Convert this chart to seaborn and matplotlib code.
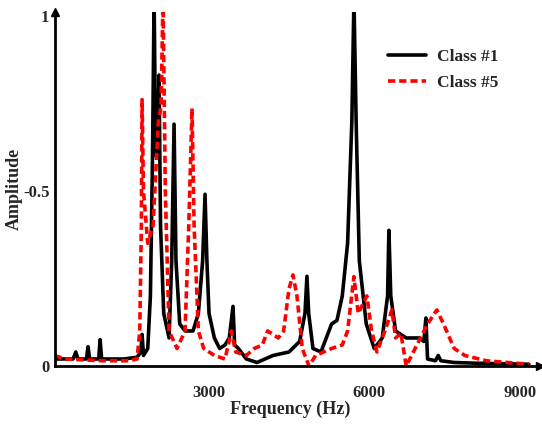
import matplotlib
matplotlib.use("Agg")
import matplotlib.pyplot as plt
import matplotlib.transforms as mtransforms
import seaborn as sns
import pandas as pd

# Class #1 (black, solid)
freq1 = [100, 450, 500, 540, 700, 730, 760, 930, 956, 985, 1400, 1650, 1720, 1744, 1770,
         1850, 1900, 1940, 1969, 2000, 2030, 2062, 2090, 2150, 2250, 2300, 2344, 2380,
         2450, 2550, 2700, 2800, 2880, 2925, 2960, 3000, 3100, 3200, 3300, 3380, 3450,
         3480, 3550, 3700, 3900, 4200, 4500, 4700, 4800, 4837, 4870, 4950, 5100, 5300,
         5400, 5500, 5600, 5680, 5719, 5760, 5820, 5950, 6100, 6250, 6350, 6375, 6410,
         6500, 6700, 6950, 7030, 7069, 7100, 7250, 7300, 7350, 7600, 8000, 9000]
amp1 = [0.02, 0.02, 0.04, 0.02, 0.02, 0.055, 0.02, 0.02, 0.075, 0.02, 0.02, 0.025, 0.04,
        0.09, 0.03, 0.05, 0.2, 0.6, 1.05, 0.6, 0.6, 0.83, 0.4, 0.15, 0.08, 0.3, 0.69, 0.3,
        0.12, 0.1, 0.1, 0.15, 0.3, 0.49, 0.3, 0.15, 0.08, 0.05, 0.06, 0.08, 0.17,
        0.06, 0.05, 0.02, 0.01, 0.03, 0.04, 0.07, 0.15, 0.256, 0.15, 0.05, 0.04, 0.12,
        0.13, 0.2, 0.35, 0.7, 1.05, 0.7, 0.3, 0.12, 0.05, 0.08, 0.2, 0.387, 0.2,
        0.1, 0.08, 0.08, 0.07, 0.137, 0.02, 0.015, 0.03, 0.015, 0.01, 0.008, 0.005]

# Class #5 (red, dashed)
freq5 = [100, 300, 1000, 1500, 1650, 1700, 1730, 1744, 1770, 1850, 1950, 2050, 2100, 2137,
         2180, 2250, 2400, 2550, 2620, 2681, 2720, 2800, 2900, 3100, 3300, 3420, 3500,
         3700, 3850, 4000, 4100, 4300, 4400, 4500, 4575, 4650, 4750, 4875, 5000, 5300,
         5500, 5600, 5719, 5800, 5962, 6050, 6150, 6300, 6431, 6500, 6600, 6700, 6900,
         7100, 7275, 7400, 7600, 7800, 8200, 9000]
amp5 = [0.03, 0.02, 0.015, 0.015, 0.02, 0.1, 0.4, 0.76, 0.5, 0.35, 0.4, 0.7, 0.74, 1.05,
        0.5, 0.1, 0.05, 0.1, 0.4, 0.735, 0.4, 0.1, 0.05, 0.03, 0.02, 0.1, 0.04,
        0.03, 0.05, 0.06, 0.1, 0.08, 0.1, 0.22, 0.26, 0.2, 0.05, 0.0, 0.03, 0.05,
        0.06, 0.1, 0.255, 0.15, 0.2, 0.1, 0.04, 0.1, 0.16, 0.08, 0.093, 0.0, 0.06,
        0.12, 0.16, 0.12, 0.05, 0.03, 0.015, 0.005]

xticks = [3000, 6000, 9000]
xtick_labels = ["3000", "6000", "9000"]
yticks = [0, 0.5, 1]
ytick_labels = ["0", "-0.5", "1"]

sns.set_style("white")
plt.rcParams["font.family"] = ["Liberation Serif", "DejaVu Serif"]
plt.rcParams["font.weight"] = "bold"

fig = plt.figure(figsize=(5.42, 4.24), dpi=100)
ax = fig.add_axes([55 / 542, 1 - 366 / 424, (540 - 55) / 542, (366 - 12) / 424])

df1 = pd.DataFrame({"f": freq1, "a": amp1})
df5 = pd.DataFrame({"f": freq5, "a": amp5})
sns.lineplot(data=df1, x="f", y="a", ax=ax, color="black", lw=2.6, label="Class #1", sort=False)
sns.lineplot(data=df5, x="f", y="a", ax=ax, color="#ff0000", lw=2.6, label="Class #5",
             sort=False, linestyle=(0, (2.0, 1.1)))

ax.set_xlim(110, 9210)
ax.set_ylim(0, 1.01)
for s in ["top", "right"]:
    ax.spines[s].set_visible(False)
for s in ["left", "bottom"]:
    ax.spines[s].set_linewidth(2)
    ax.spines[s].set_color("black")
# arrow heads
ax.plot(1, 0, ">k", transform=ax.transAxes, clip_on=False, markersize=6)
ax.plot(0, 1, "^k", transform=ax.transAxes, clip_on=False, markersize=6)

ax.set_xticks(xticks)
ax.set_xticklabels(xtick_labels, fontsize=12, fontweight="bold")
ax.set_yticks(yticks)
ax.set_yticklabels(ytick_labels, fontsize=12, fontweight="bold")
ax.tick_params(axis="x", direction="in", length=4, width=1, pad=14)
ax.tick_params(axis="y", direction="out", length=3, width=1, pad=1)

# shift last x tick label slightly left (as in reference)
lab = ax.get_xticklabels()[-1]
lab.set_transform(lab.get_transform() + mtransforms.ScaledTranslation(-9 / 100, 0, fig.dpi_scale_trans))

ax.set_xlabel("Frequency (Hz)", fontsize=13, fontweight="bold")
ax.xaxis.set_label_coords(0.485, -0.097)
ax.set_ylabel("Amplitude", fontsize=13, fontweight="bold")
ax.yaxis.set_label_coords(-0.066, 0.5)

leg = ax.legend(loc="upper left", bbox_to_anchor=(0.655, 0.94), frameon=False,
                prop={"family": "Liberation Serif", "weight": "bold", "size": 12.5},
                handlelength=2.2, labelspacing=0.55, handletextpad=0.6)

fig.savefig("out.png", dpi=100)
